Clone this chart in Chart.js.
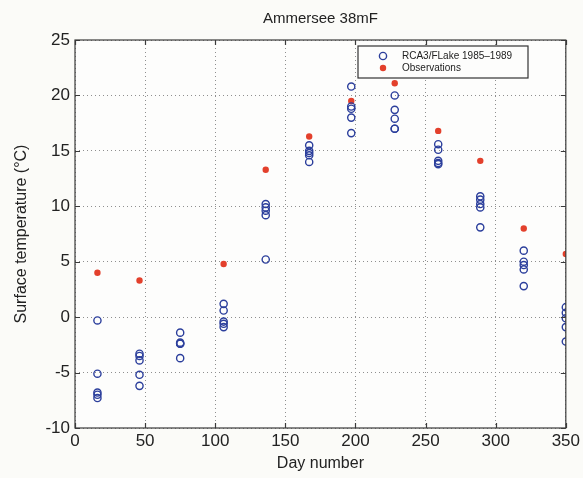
<!DOCTYPE html>
<html>
<head>
<meta charset="utf-8">
<title>Ammersee 38mF</title>
<script src="https://cdn.jsdelivr.net/npm/chart.js@4/dist/chart.umd.min.js"></script>
<style>
  html, body { margin: 0; padding: 0; background: #fbfbf8; }
  canvas { display: block; }
</style>
</head>
<body>
<canvas id="chart" width="583" height="478"></canvas>
<script>
// sampling days (mid-month)
const days = [16, 46, 75, 106, 136, 167, 197, 228, 259, 289, 320, 350];

// RCA3/FLake runs, one value per year 1985-1989 for each sampling day
const modelRuns = [
    [-0.3, -5.1, -6.8, -7.0, -7.3],
    [-3.3, -3.5, -3.9, -5.2, -6.2],
    [-1.4, -2.3, -2.4, -2.4, -3.7],
    [1.2, 0.6, -0.4, -0.6, -0.9],
    [10.2, 9.9, 9.6, 9.2, 5.2],
    [15.5, 15.0, 14.8, 14.6, 14.0],
    [20.8, 19.0, 18.8, 18.0, 16.6],
    [20.0, 18.7, 17.9, 17.0, 17.0],
    [15.6, 15.1, 14.1, 13.9, 13.8],
    [10.9, 10.6, 10.2, 9.9, 8.1],
    [6.0, 5.0, 4.7, 4.3, 2.8],
    [0.9, 0.4, -0.1, -0.9, -2.2],
];

// lake observations (none in March)
const observed = [4.0, 3.3, null, 4.8, 13.3, 16.3, 19.5, 21.1, 16.8, 14.1, 8.0, 5.7];

const modelLabel = 'RCA3/FLake 1985\u20131989';
const obsLabel = 'Observations';

const blue = '#2c3f9c';
const red = '#e3402c';
const ink = '#222';

const modelPoints = days.flatMap((d, i) => modelRuns[i].map(v => ({ x: d, y: v })));
const obsPoints = days.map((d, i) => ({ x: d, y: observed[i] })).filter(p => p.y !== null);

// frame, matlab style inward ticks
const boxPlugin = {
    id: 'box',
    beforeDraw(chart) {
        const { ctx, chartArea: a } = chart;
        ctx.save();
        ctx.fillStyle = '#fdfdfc';
        ctx.fillRect(a.left, a.top, a.right - a.left, a.bottom - a.top);
        ctx.restore();
    },
    afterDatasetsDraw(chart) {
        const { ctx, chartArea: a, scales } = chart;
        ctx.save();
        ctx.strokeStyle = '#3a3a3a';
        ctx.lineWidth = 1.2;
        ctx.strokeRect(a.left, a.top, a.right - a.left, a.bottom - a.top);
        ctx.beginPath();
        scales.x.ticks.forEach(t => {
            const px = Math.round(scales.x.getPixelForValue(t.value)) + 0.5;
            ctx.moveTo(px, a.bottom); ctx.lineTo(px, a.bottom - 5);
            ctx.moveTo(px, a.top); ctx.lineTo(px, a.top + 5);
        });
        scales.y.ticks.forEach(t => {
            const py = Math.round(scales.y.getPixelForValue(t.value)) + 0.5;
            ctx.moveTo(a.left, py); ctx.lineTo(a.left + 5, py);
            ctx.moveTo(a.right, py); ctx.lineTo(a.right - 5, py);
        });
        ctx.stroke();
        ctx.restore();
    },
};

// small boxed legend in the upper right of the axes
const insetLegend = {
    id: 'insetLegend',
    afterDraw(chart) {
        const { ctx, chartArea: a } = chart;
        const x = a.left + 283, y = a.top + 6, w = 170, h = 32;
        ctx.save();
        ctx.fillStyle = '#fdfdfc';
        ctx.fillRect(x, y, w, h);
        ctx.strokeStyle = '#333';
        ctx.lineWidth = 1.2;
        ctx.strokeRect(x, y, w, h);
        ctx.font = '10px "Liberation Sans", Arial, sans-serif';
        ctx.fillStyle = ink;
        ctx.textBaseline = 'middle';
        chart.data.datasets.forEach((ds, i) => {
            const cy = y + 10 + i * 12;
            ctx.beginPath();
            ctx.arc(x + 25, cy, ds.pointRadius, 0, Math.PI * 2);
            if (ds.pointBorderWidth) {
                ctx.strokeStyle = ds.pointBorderColor;
                ctx.lineWidth = ds.pointBorderWidth;
                ctx.stroke();
            } else {
                ctx.fillStyle = ds.pointBackgroundColor;
                ctx.fill();
            }
            ctx.fillStyle = ink;
            ctx.fillText(ds.label, x + 44, cy + 0.5);
        });
        ctx.restore();
    },
};

const axisFont = { family: '"Liberation Sans", Arial, sans-serif', size: 17 };
const dotted = { color: '#8f8f8f', lineWidth: 1 };

new Chart(document.getElementById('chart'), {
    type: 'scatter',
    data: {
        datasets: [
            {
                label: modelLabel,
                data: modelPoints,
                pointStyle: 'circle',
                pointRadius: 3.6,
                pointBorderWidth: 1.4,
                pointBorderColor: blue,
                pointBackgroundColor: 'rgba(0,0,0,0)',
            },
            {
                label: obsLabel,
                data: obsPoints,
                pointStyle: 'circle',
                pointRadius: 3.2,
                pointBorderWidth: 0,
                pointBorderColor: red,
                pointBackgroundColor: red,
            },
        ],
    },
    options: {
        responsive: false,
        animation: false,
        layout: { padding: { right: 17 } },
        plugins: {
            legend: { display: false },
            tooltip: { enabled: false },
            title: {
                display: true,
                fullSize: false,
                text: 'Ammersee 38mF',
                color: ink,
                font: { family: '"Liberation Sans", Arial, sans-serif', size: 15, weight: 'normal' },
                padding: { top: 10, bottom: 12 },
            },
        },
        scales: {
            x: {
                type: 'linear',
                min: 0,
                max: 350,
                ticks: { stepSize: 50, color: ink, font: axisFont, padding: 3, maxRotation: 0 },
                grid: { ...dotted, drawTicks: false },
                border: { display: false, dash: [1, 3] },
                title: {
                    display: true,
                    text: 'Day number',
                    color: ink,
                    font: { family: '"Liberation Sans", Arial, sans-serif', size: 16 },
                    padding: { top: 0, bottom: 5 },
                },
                afterFit(scale) { scale.height = 50; },
            },
            y: {
                min: -10,
                max: 25,
                ticks: { stepSize: 5, color: ink, font: axisFont, padding: 5 },
                grid: { ...dotted, drawTicks: false },
                border: { display: false, dash: [1, 3] },
                title: {
                    display: true,
                    text: 'Surface temperature (\u00b0C)',
                    color: ink,
                    font: { family: '"Liberation Sans", Arial, sans-serif', size: 16 },
                    padding: { top: 12, bottom: 0 },
                },
                afterFit(scale) { scale.width = 75; },
            },
        },
    },
    plugins: [boxPlugin, insetLegend],
});
</script>
</body>
</html>
